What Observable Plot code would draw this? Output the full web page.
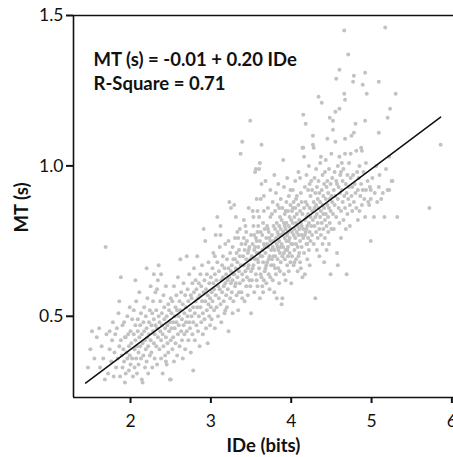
<!DOCTYPE html>
<html><head><meta charset="utf-8">
<script src="https://cdn.jsdelivr.net/npm/d3@7"></script>
<script src="https://cdn.jsdelivr.net/npm/@observablehq/plot@0.6"></script>
<style>body{margin:0;background:#fff}svg{display:block}</style>
</head><body><div id="chart"></div>
<script>
const xDomain = [1.29, 6.02];
const yDomain = [0.23, 1.5];
const xTicks = [2, 3, 4, 5, 6];
const yTicks = [0.5, 1.0, 1.5];
const fitIntercept = -0.01;
const fitSlope = 0.20;
const fitRange = [1.44, 5.86];
const annotation = ["MT (s) = -0.01 + 0.20 IDe", "R-Square = 0.71"];
const xLabel = "IDe (bits)";
const yLabel = "MT (s)";
// [IDe (bits), MT (s)] per trial
const trials = [
[1.47,0.33],[1.50,0.39],[1.52,0.45],[1.58,0.43],[1.55,0.36],[1.62,0.33],[1.64,0.40],[1.66,0.36],[1.69,0.73],[1.70,0.44],[1.72,0.31],[1.74,0.39],[1.74,0.45],[1.76,0.35],[1.77,0.42],[1.78,0.48],[1.79,0.30],[1.80,0.38],[1.61,0.46],[1.68,0.29],
[1.81,0.44],[1.82,0.33],[1.83,0.46],[1.84,0.36],[1.85,0.51],[1.86,0.40],[1.87,0.30],[1.88,0.63],[1.88,0.42],[1.89,0.37],[1.90,0.47],[1.90,0.33],[1.91,0.39],[1.92,0.48],[1.92,0.35],[1.93,0.43],[1.94,0.43],[1.94,0.31],[1.95,0.38],[1.96,0.50],[1.96,0.36],[1.97,0.44],[1.98,0.32],[1.98,0.40],[1.99,0.53],[1.99,0.37],[2.00,0.45],[2.00,0.34],[1.86,0.55],[1.93,0.28],
[2.01,0.41],[2.02,0.49],[2.02,0.36],[2.03,0.30],[2.04,0.44],[2.04,0.52],[2.05,0.39],[2.05,0.33],[2.06,0.47],[2.06,0.42],[2.07,0.36],[2.07,0.55],[2.08,0.40],[2.08,0.31],[2.09,0.45],[2.09,0.49],[2.10,0.38],[2.10,0.34],[2.11,0.43],[2.11,0.58],[2.12,0.47],[2.12,0.40],[2.13,0.36],[2.13,0.51],[2.14,0.44],[2.14,0.29],[2.15,0.28],[2.15,0.41],[2.16,0.48],[2.16,0.37],[2.17,0.53],[2.17,0.45],[2.18,0.33],[2.18,0.42],[2.19,0.50],[2.19,0.39],[2.20,0.66],[2.20,0.46],[2.20,0.35],[2.21,0.43],[2.21,0.56],[2.22,0.40],[2.22,0.31],[2.23,0.48],[2.23,0.44],[2.24,0.37],[2.24,0.52],[2.25,0.42],[2.25,0.60],[2.06,0.62],
[2.26,0.47],[2.26,0.38],[2.27,0.51],[2.27,0.33],[2.28,0.45],[2.28,0.55],[2.29,0.41],[2.29,0.49],[2.30,0.36],[2.30,0.44],[2.31,0.58],[2.31,0.47],[2.32,0.40],[2.32,0.52],[2.33,0.34],[2.33,0.46],[2.34,0.43],[2.34,0.62],[2.35,0.67],[2.35,0.50],[2.36,0.39],[2.36,0.48],[2.37,0.45],[2.37,0.55],[2.38,0.36],[2.38,0.42],[2.39,0.51],[2.39,0.47],[2.40,0.31],[2.40,0.44],[2.41,0.57],[2.41,0.40],[2.42,0.49],[2.42,0.53],[2.43,0.37],[2.43,0.46],[2.44,0.43],[2.44,0.60],[2.45,0.50],[2.45,0.34],[2.46,0.47],[2.46,0.41],[2.47,0.54],[2.47,0.38],[2.48,0.45],[2.48,0.52],[2.49,0.29],[2.49,0.48],[2.50,0.42],[2.50,0.56],[2.50,0.29],[2.33,0.59],[2.44,0.35],[2.29,0.64],[2.38,0.64],
[2.51,0.46],[2.51,0.51],[2.52,0.39],[2.52,0.55],[2.53,0.48],[2.53,0.43],[2.54,0.60],[2.54,0.35],[2.55,0.50],[2.55,0.46],[2.56,0.53],[2.56,0.41],[2.57,0.57],[2.57,0.48],[2.58,0.37],[2.58,0.52],[2.59,0.44],[2.59,0.63],[2.60,0.50],[2.60,0.47],[2.61,0.40],[2.61,0.55],[2.62,0.69],[2.62,0.52],[2.63,0.45],[2.63,0.58],[2.64,0.42],[2.64,0.49],[2.65,0.54],[2.65,0.36],[2.66,0.61],[2.66,0.47],[2.67,0.51],[2.67,0.44],[2.68,0.57],[2.68,0.39],[2.69,0.53],[2.69,0.48],[2.70,0.70],[2.70,0.45],[2.71,0.59],[2.71,0.50],[2.72,0.42],[2.72,0.55],[2.73,0.48],[2.73,0.64],[2.74,0.52],[2.74,0.46],[2.75,0.38],[2.75,0.57],[2.78,0.32],
[2.76,0.50],[2.76,0.56],[2.77,0.44],[2.77,0.61],[2.78,0.53],[2.78,0.48],[2.79,0.66],[2.79,0.58],[2.80,0.51],[2.80,0.42],[2.81,0.55],[2.81,0.62],[2.82,0.47],[2.82,0.59],[2.83,0.53],[2.83,0.70],[2.84,0.45],[2.84,0.56],[2.85,0.61],[2.85,0.50],[2.86,0.40],[2.86,0.57],[2.87,0.64],[2.87,0.53],[2.88,0.48],[2.88,0.60],[2.89,0.55],[2.89,0.67],[2.90,0.51],[2.90,0.44],[2.91,0.79],[2.91,0.58],[2.92,0.62],[2.92,0.49],[2.93,0.75],[2.93,0.55],[2.94,0.46],[2.94,0.59],[2.95,0.64],[2.95,0.52],[2.96,0.57],[2.96,0.41],[2.97,0.68],[2.97,0.54],[2.98,0.50],[2.98,0.61],[2.99,0.56],[2.99,0.47],[3.00,0.63],[3.00,0.53],
[3.01,0.58],[3.01,0.49],[3.02,0.66],[3.02,0.55],[3.03,0.61],[3.03,0.71],[3.04,0.52],[3.04,0.59],[3.05,0.64],[3.05,0.46],[3.06,0.77],[3.06,0.57],[3.07,0.62],[3.07,0.53],[3.08,0.83],[3.08,0.68],[3.09,0.60],[3.09,0.50],[3.10,0.56],[3.10,0.65],[3.11,0.73],[3.11,0.59],[3.12,0.80],[3.12,0.77],[3.12,0.54],[3.13,0.62],[3.13,0.48],[3.14,0.67],[3.14,0.58],[3.15,0.63],[3.15,0.70],[3.16,0.55],[3.16,0.60],[3.17,0.66],[3.17,0.51],[3.18,0.74],[3.18,0.61],[3.19,0.57],[3.19,0.64],[3.20,0.69],[3.20,0.53],[3.21,0.62],[3.21,0.59],[3.22,0.66],[3.22,0.45],[3.23,0.88],[3.23,0.63],[3.24,0.56],[3.24,0.71],[3.25,0.86],[3.25,0.61],[3.25,0.65],[3.05,0.70],[3.18,0.52],[3.22,0.75],
[3.26,0.67],[3.26,0.58],[3.27,0.73],[3.27,0.62],[3.28,0.55],[3.28,0.69],[3.29,0.87],[3.29,0.64],[3.30,0.60],[3.30,0.76],[3.31,0.83],[3.31,0.66],[3.32,0.57],[3.32,0.71],[3.33,0.63],[3.33,0.68],[3.34,0.76],[3.34,0.52],[3.35,0.65],[3.35,0.72],[3.36,0.61],[3.36,0.79],[3.37,1.04],[3.37,0.67],[3.38,0.58],[3.38,0.74],[3.39,1.08],[3.39,0.64],[3.40,0.70],[3.40,0.62],[3.41,0.82],[3.41,0.76],[3.41,0.67],[3.42,0.55],[3.42,0.72],[3.43,0.80],[3.43,0.65],[3.44,0.69],[3.44,0.60],[3.45,0.75],[3.45,0.63],[3.46,0.71],[3.46,0.57],[3.47,0.86],[3.47,0.67],[3.48,0.73],[3.48,0.62],[3.49,1.15],[3.49,0.69],[3.50,0.51],[3.50,0.77],[3.50,0.65],[3.27,0.51],[3.30,0.69],[3.33,0.78],[3.36,0.70],[3.39,0.56],[3.43,0.74],[3.46,0.66],[3.49,0.60],[3.28,0.64],[3.31,0.61],[3.35,0.58],[3.44,0.78],[3.47,0.72],
[3.51,0.70],[3.51,0.62],[3.52,0.85],[3.52,0.74],[3.53,0.83],[3.53,0.80],[3.53,0.67],[3.54,0.58],[3.54,0.72],[3.55,0.98],[3.55,0.69],[3.56,0.99],[3.56,0.76],[3.56,0.64],[3.57,0.89],[3.57,0.71],[3.58,0.60],[3.58,0.78],[3.59,0.68],[3.59,0.73],[3.60,0.99],[3.60,0.83],[3.60,0.66],[3.61,1.01],[3.61,0.75],[3.61,0.56],[3.62,0.89],[3.62,0.70],[3.63,1.07],[3.63,0.94],[3.63,0.63],[3.64,0.77],[3.64,0.72],[3.65,0.58],[3.65,0.68],[3.65,0.81],[3.66,0.85],[3.66,0.74],[3.67,0.65],[3.67,0.79],[3.68,0.95],[3.68,0.71],[3.69,0.61],[3.69,0.76],[3.70,0.80],[3.70,0.68],[3.71,0.73],[3.71,0.86],[3.72,0.64],[3.72,0.78],[3.73,0.70],[3.73,0.59],[3.74,0.83],[3.74,0.75],[3.75,0.67],[3.75,0.72],[3.52,0.66],[3.54,0.77],[3.57,0.62],[3.58,0.69],[3.59,0.80],[3.62,0.64],[3.64,0.70],[3.66,0.62],[3.67,0.73],[3.69,0.67],[3.71,0.79],[3.72,0.69],[3.73,0.76],[3.74,0.63],[3.55,0.73],[3.58,0.85],[3.62,0.78],[3.66,0.90],[3.70,0.74],[3.68,0.66],[3.74,0.92],[3.64,0.60],[3.57,0.75],[3.60,0.71],
[3.76,0.77],[3.76,0.69],[3.76,0.84],[3.77,0.73],[3.77,0.62],[3.77,0.88],[3.78,0.75],[3.78,0.80],[3.78,0.67],[3.79,0.97],[3.79,0.58],[3.79,0.72],[3.80,0.79],[3.80,0.85],[3.80,0.70],[3.81,0.64],[3.81,0.76],[3.81,0.91],[3.82,0.56],[3.82,0.74],[3.82,0.81],[3.83,0.69],[3.83,0.78],[3.83,0.87],[3.84,0.72],[3.84,0.66],[3.84,0.94],[3.85,0.80],[3.85,0.75],[3.85,0.61],[3.86,0.83],[3.86,0.71],[3.86,0.77],[3.87,0.68],[3.87,0.89],[3.87,0.79],[3.88,0.54],[3.88,0.74],[3.88,0.82],[3.89,0.56],[3.89,0.70],[3.89,0.86],[3.90,1.02],[3.90,0.78],[3.90,0.73],[3.91,0.64],[3.91,0.81],[3.91,0.93],[3.92,0.76],[3.92,0.69],[3.92,0.84],[3.93,0.72],[3.93,0.79],[3.93,0.62],[3.94,0.88],[3.94,0.75],[3.94,0.81],[3.95,0.67],[3.95,0.77],[3.95,0.96],[3.96,0.73],[3.96,0.85],[3.96,0.70],[3.97,0.80],[3.97,0.65],[3.97,0.90],[3.98,0.76],[3.98,0.83],[3.98,0.71],[3.99,0.79],[3.99,0.68],[3.99,0.87],[4.00,0.74],[4.00,0.82],[4.00,0.61],[3.78,0.70],[3.80,0.66],[3.83,0.73],[3.85,0.86],[3.87,0.73],[3.89,0.77],[3.91,0.71],[3.93,0.85],[3.95,0.72],[3.97,0.75],[3.99,0.92],[3.84,0.77],[3.86,0.65],[3.92,0.80],[3.96,0.78],
[4.01,0.78],[4.01,0.85],[4.01,0.70],[4.02,0.81],[4.02,0.74],[4.02,0.92],[4.03,0.77],[4.03,0.67],[4.03,0.88],[4.04,0.83],[4.04,0.79],[4.04,0.72],[4.05,0.95],[4.05,0.76],[4.05,0.86],[4.06,0.69],[4.06,0.81],[4.06,0.74],[4.07,0.90],[4.07,0.78],[4.07,0.84],[4.08,0.65],[4.08,0.80],[4.08,0.73],[4.09,0.87],[4.09,0.77],[4.09,0.98],[4.10,0.82],[4.10,0.71],[4.10,0.79],[4.11,0.85],[4.11,0.75],[4.11,0.68],[4.12,0.66],[4.12,0.91],[4.12,0.81],[4.13,0.77],[4.13,0.88],[4.13,0.73],[4.14,0.63],[4.14,1.06],[4.14,0.84],[4.15,1.17],[4.15,1.06],[4.15,0.79],[4.15,0.76],[4.16,1.03],[4.16,0.86],[4.16,0.71],[4.17,0.64],[4.17,0.82],[4.17,0.93],[4.18,1.14],[4.18,0.78],[4.18,0.88],[4.19,0.74],[4.19,0.83],[4.19,0.97],[4.20,0.80],[4.20,0.69],[4.20,0.87],[4.21,0.76],[4.21,0.92],[4.21,0.84],[4.22,0.72],[4.22,0.81],[4.22,1.00],[4.23,0.86],[4.23,0.78],[4.23,0.67],[4.24,0.90],[4.24,0.83],[4.24,0.75],[4.25,0.80],[4.25,0.95],[4.02,0.86],[4.06,0.89],[4.09,0.70],[4.13,0.80],[4.17,0.77],[4.20,0.74],[4.23,0.94],[4.04,0.68],[4.11,0.96],[4.19,0.79],
[4.26,0.85],[4.26,0.77],[4.26,0.92],[4.27,1.10],[4.27,1.07],[4.27,0.82],[4.28,1.06],[4.28,0.88],[4.28,0.74],[4.29,0.96],[4.29,0.80],[4.29,0.86],[4.30,0.56],[4.30,0.83],[4.30,0.91],[4.31,0.78],[4.31,0.99],[4.31,0.87],[4.32,0.72],[4.32,0.84],[4.32,0.93],[4.33,0.81],[4.33,0.89],[4.33,0.76],[4.34,1.23],[4.34,0.86],[4.34,0.95],[4.35,0.79],[4.35,0.91],[4.35,0.70],[4.36,0.88],[4.36,0.83],[4.36,1.01],[4.37,1.03],[4.37,0.85],[4.37,0.77],[4.38,1.21],[4.38,0.92],[4.38,0.81],[4.39,0.74],[4.39,0.87],[4.39,0.97],[4.40,0.84],[4.40,0.90],[4.40,0.79],[4.41,0.68],[4.41,0.94],[4.41,0.86],[4.42,0.82],[4.42,0.98],[4.42,0.76],[4.43,1.02],[4.43,0.89],[4.43,0.84],[4.44,0.93],[4.44,0.80],[4.44,0.72],[4.45,1.09],[4.45,0.87],[4.45,0.95],[4.46,0.83],[4.46,0.91],[4.46,0.78],[4.47,0.99],[4.47,0.86],[4.47,0.74],[4.48,1.16],[4.48,0.89],[4.48,0.81],[4.49,0.64],[4.49,0.94],[4.49,0.85],[4.50,0.90],[4.50,1.04],[4.50,0.79],
[4.51,0.88],[4.51,0.96],[4.52,1.15],[4.52,1.12],[4.52,0.84],[4.53,0.92],[4.53,0.79],[4.54,0.98],[4.54,0.87],[4.55,1.18],[4.55,1.08],[4.55,0.90],[4.56,1.29],[4.56,0.83],[4.57,0.71],[4.57,0.94],[4.58,0.67],[4.58,0.89],[4.58,1.00],[4.59,0.86],[4.59,0.93],[4.60,1.32],[4.60,1.19],[4.60,1.03],[4.60,0.81],[4.61,0.91],[4.61,0.97],[4.62,0.85],[4.62,0.76],[4.63,1.01],[4.63,0.92],[4.64,0.88],[4.64,0.95],[4.65,0.82],[4.65,0.99],[4.66,1.45],[4.66,1.24],[4.66,0.90],[4.67,1.22],[4.67,1.09],[4.67,1.04],[4.67,0.86],[4.68,0.94],[4.68,0.79],[4.69,0.64],[4.69,0.91],[4.70,0.97],[4.70,0.84],[4.71,1.37],[4.71,0.89],[4.72,1.01],[4.72,0.93],[4.73,0.87],[4.73,0.80],[4.74,1.04],[4.74,0.96],[4.75,1.10],[4.75,0.90],[4.56,0.95],[4.62,0.98],
[4.76,0.93],[4.76,0.85],[4.77,1.28],[4.77,0.97],[4.78,1.30],[4.78,1.11],[4.78,0.88],[4.79,0.94],[4.80,1.14],[4.80,0.91],[4.81,1.05],[4.81,0.86],[4.82,0.98],[4.83,0.92],[4.83,0.82],[4.84,0.96],[4.85,0.85],[4.85,1.00],[4.86,0.90],[4.87,1.06],[4.87,0.94],[4.88,1.05],[4.88,0.87],[4.89,1.27],[4.89,0.92],[4.90,0.98],[4.91,0.89],[4.92,1.31],[4.92,1.15],[4.92,0.83],[4.93,1.01],[4.93,0.92],[4.94,1.24],[4.95,0.95],[4.96,0.88],[4.97,0.87],[4.98,0.93],[4.99,0.92],[4.99,0.89],[4.99,0.75],
[5.01,0.96],[5.03,0.83],[5.04,0.91],[5.06,1.00],[5.07,0.88],[5.09,1.28],[5.09,1.11],[5.09,0.93],[5.10,0.97],[5.12,0.89],[5.14,0.91],[5.16,0.83],[5.17,1.46],[5.18,0.99],[5.20,1.16],[5.20,0.92],[5.22,1.03],[5.22,0.92],[5.23,1.19],[5.25,0.95],
[5.26,0.95],[5.30,1.24],[5.32,0.83],[5.72,0.86],[5.86,1.07]
];

const points = trials.map(([ide, mt]) => ({ide, mt}));
const fit = fitRange.map(ide => ({ide, mt: fitIntercept + fitSlope * ide}));
const ink = "#111";

const chart = Plot.plot({
  width: 453,
  height: 457,
  marginLeft: 73,
  marginRight: 0,
  marginTop: 15,
  marginBottom: 60,
  style: {fontFamily: "Lato, 'Open Sans', sans-serif", fontSize: "17px", color: ink, background: "#fff"},
  x: {domain: xDomain},
  y: {domain: yDomain},
  marks: [
    Plot.dot(points, {x: "ide", y: "mt", r: 2, fill: "#c2c2c2", stroke: "none"}),
    Plot.line(fit, {x: "ide", y: "mt", stroke: ink, strokeWidth: 1.5}),
    Plot.ruleY([yDomain[1]], {stroke: ink, strokeWidth: 1.6}),
    Plot.ruleY([yDomain[0]], {stroke: ink, strokeWidth: 1.6}),
    Plot.ruleX([xDomain[0]], {stroke: ink, strokeWidth: 1.6}),
    Plot.axisX({ticks: xTicks, tickSize: 6, tickPadding: 11, strokeWidth: 2, tickFormat: d3.format("d"), label: null, fontSize: 17.5}),
    Plot.axisY({ticks: yTicks, tickSize: 7, tickPadding: 3, strokeWidth: 2, tickFormat: d3.format(".1f"), label: null, fontSize: 17.5}),
    Plot.text([annotation.join("\n")], {frameAnchor: "top-left", dx: 20, dy: 33, lineAnchor: "top", lineHeight: 1.3, textAnchor: "start", fontWeight: "bold", fontSize: 18.5, fill: ink}),
    Plot.text([xLabel], {frameAnchor: "bottom", dy: 54, fontWeight: "bold", fontSize: 18.5, fill: ink}),
    Plot.text([yLabel], {frameAnchor: "left", dx: -51, dy: 26, rotate: -90, fontWeight: "bold", fontSize: 18.5, fill: ink})
  ]
});
document.getElementById("chart").append(chart);
</script>
</body></html>
